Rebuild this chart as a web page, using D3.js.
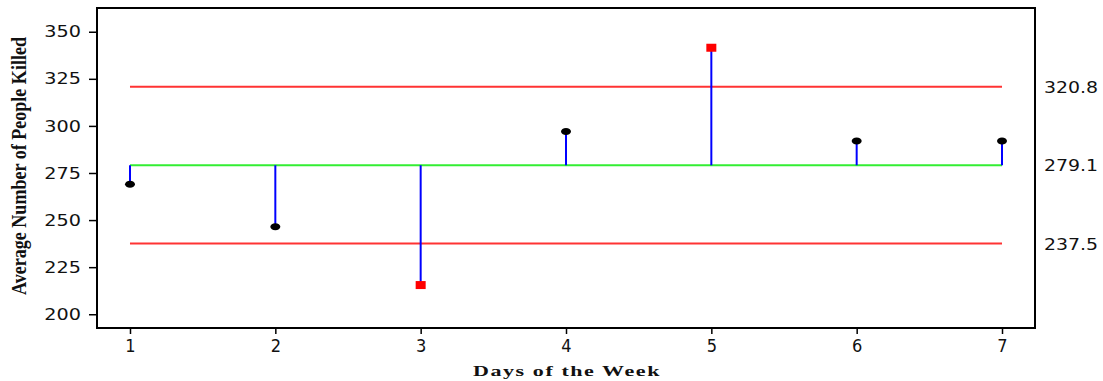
<!DOCTYPE html>
<html>
<head>
<meta charset="utf-8">
<script src="https://cdn.jsdelivr.net/npm/d3@7"></script>
<style>
  html, body { margin: 0; padding: 0; background: #fff; }
  svg { display: block; }
</style>
</head>
<body>
<svg id="chart" width="1103" height="381"></svg>
<script>
// ---- data ----
const days = [1, 2, 3, 4, 5, 6, 7];
const avgKilled = [269, 246.5, 215.5, 297, 341.5, 292, 292];
const yTicks = [200, 225, 250, 275, 300, 325, 350];
const ucl = 320.8;
const center = 279.1;
const lcl = 237.5;
const limitLabels = ["320.8", "279.1", "237.5"];
const xTitle = "Days of the Week";
const yTitle = "Average Number of People Killed";

// ---- layout ----
const svg = d3.select("#chart");
const L = 97, R = 1035, T = 8, B = 328;

const x = d3.scaleLinear().domain([0.773, 7.227]).range([L, R]);
const y = d3.scaleLinear().domain([192.7, 362.6]).range([B, T]);

function widen(sel, f) {
  sel.each(function () {
    const w = this.getComputedTextLength();
    d3.select(this).attr("textLength", w * f).attr("lengthAdjust", "spacingAndGlyphs");
  });
}

// frame
svg.append("rect")
  .attr("x", L).attr("y", T).attr("width", R - L).attr("height", B - T)
  .attr("fill", "none").attr("stroke", "#000").attr("stroke-width", 2);

// y axis
const yAxis = svg.append("g")
  .attr("transform", `translate(${L},0)`)
  .call(d3.axisLeft(y).tickValues(yTicks).tickSize(8).tickPadding(8).tickSizeOuter(0));
yAxis.select(".domain").remove();
yAxis.selectAll(".tick line").attr("stroke", "#000").attr("stroke-width", 1.5);
yAxis.selectAll(".tick text")
  .style("font-family", "'DejaVu Sans', Verdana, sans-serif")
  .style("font-size", "16px")
  .attr("fill", "#111");
widen(yAxis.selectAll(".tick text"), 1.2);

// x axis
const xAxis = svg.append("g")
  .attr("transform", `translate(0,${B})`)
  .attr("font-size", 18)
  .call(d3.axisBottom(x).tickValues(days).tickFormat(d3.format("d")).tickSize(6).tickPadding(5).tickSizeOuter(0));
xAxis.attr("font-size", 18).attr("font-family", "'DejaVu Sans Condensed', 'DejaVu Sans', sans-serif");
xAxis.select(".domain").remove();
xAxis.selectAll(".tick line").attr("stroke", "#000").attr("stroke-width", 1.5);
xAxis.selectAll(".tick text")
  .attr("font-size", 18)
  .style("font-size", "18px")
  .attr("fill", "#111");

// control limit lines
const limits = [
  { v: ucl, c: "#ff3333" },
  { v: center, c: "#33ee33" },
  { v: lcl, c: "#ff3333" }
];
svg.append("g").selectAll("line")
  .data(limits).join("line")
  .attr("x1", x(days[0])).attr("x2", x(days[days.length - 1]))
  .attr("y1", d => y(d.v)).attr("y2", d => y(d.v))
  .attr("stroke", d => d.c).attr("stroke-width", 2);

// right-side labels
const rl = svg.append("g").selectAll("text")
  .data([ucl, center, lcl]).join("text")
  .attr("x", 1044)
  .attr("y", d => y(d) + 6)
  .style("font-family", "'DejaVu Sans', Verdana, sans-serif")
  .style("font-size", "16px")
  .attr("fill", "#111")
  .text((d, i) => limitLabels[i]);
widen(rl, 1.18);

// stems
const data = days.map((d, i) => ({ day: d, v: avgKilled[i], out: avgKilled[i] > ucl || avgKilled[i] < lcl }));
svg.append("g").selectAll("line")
  .data(data).join("line")
  .attr("x1", d => x(d.day)).attr("x2", d => x(d.day))
  .attr("y1", y(center)).attr("y2", d => y(d.v))
  .attr("stroke", "#0000ff").attr("stroke-width", 2);

// points
svg.append("g").selectAll("ellipse")
  .data(data.filter(d => !d.out)).join("ellipse")
  .attr("cx", d => x(d.day)).attr("cy", d => y(d.v))
  .attr("rx", 5).attr("ry", 3.5)
  .attr("fill", "#000");
svg.append("g").selectAll("rect")
  .data(data.filter(d => d.out)).join("rect")
  .attr("x", d => x(d.day) - 5).attr("y", d => y(d.v) - 4)
  .attr("width", 10).attr("height", 8)
  .attr("fill", "#ff0000");

// axis titles
svg.append("text")
  .attr("x", 567).attr("y", 376)
  .attr("text-anchor", "middle")
  .style("font-family", "'Liberation Serif', 'Times New Roman', serif")
  .style("font-weight", "bold")
  .style("font-size", "14px")
  .style("letter-spacing", "1px")
  .attr("textLength", 188)
  .attr("lengthAdjust", "spacingAndGlyphs")
  .attr("fill", "#111")
  .text(xTitle);

svg.append("text")
  .attr("transform", "translate(26,166) rotate(-90)")
  .attr("text-anchor", "middle")
  .style("font-family", "'Liberation Serif', 'Times New Roman', serif")
  .style("font-weight", "bold")
  .style("font-size", "20px")
  .attr("textLength", 258)
  .attr("lengthAdjust", "spacingAndGlyphs")
  .attr("fill", "#111")
  .text(yTitle);
</script>
</body>
</html>
